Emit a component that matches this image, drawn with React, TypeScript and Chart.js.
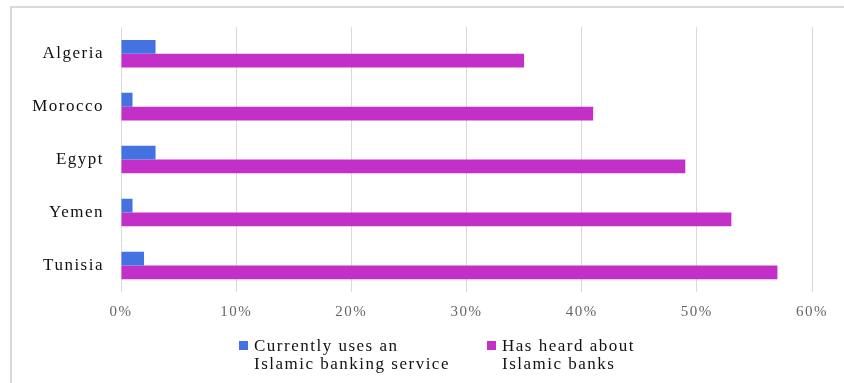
import React, { useEffect, useRef } from "react";
import { Chart, registerables } from "chart.js";

Chart.register(...registerables);

const categories = ["Algeria", "Morocco", "Egypt", "Yemen", "Tunisia"];
const usesService = [3, 1, 3, 1, 2];
const heardAbout = [35, 41, 49, 53, 57];
const seriesLabels = [
  ["Currently uses an", "Islamic banking service"],
  ["Has heard about", "Islamic banks"],
];
const seriesColors = ["#4472E0", "#C330C8"];
const xTicks = [0, 10, 20, 30, 40, 50, 60];

const FONT = "'Liberation Serif', 'Times New Roman', serif";

const spacingPlugin = {
  id: "letterSpacing",
  beforeDraw(chart: any) {
    try {
      chart.ctx.letterSpacing = "1.5px";
    } catch (e) {}
  },
};

export default function App() {
  const ref = useRef<HTMLCanvasElement | null>(null);

  useEffect(() => {
    if (!ref.current) return;
    const chart = new Chart(ref.current, {
      type: "bar",
      data: {
        labels: categories,
        datasets: [
          {
            label: seriesLabels[0].join(" "),
            data: usesService,
            backgroundColor: seriesColors[0],
            categoryPercentage: 0.52,
            barPercentage: 1,
          },
          {
            label: seriesLabels[1].join(" "),
            data: heardAbout,
            backgroundColor: seriesColors[1],
            categoryPercentage: 0.52,
            barPercentage: 1,
          },
        ],
      },
      plugins: [spacingPlugin],
      options: {
        indexAxis: "y",
        animation: false,
        responsive: false,
        maintainAspectRatio: false,
        layout: { padding: { left: 0, right: 32, top: 27, bottom: 61 } },
        plugins: {
          legend: { display: false },
          tooltip: { enabled: false },
        },
        scales: {
          x: {
            min: xTicks[0],
            max: xTicks[xTicks.length - 1],
            border: { display: false },
            grid: { color: "#d9d9d9", drawTicks: false, lineWidth: 1 },
            afterFit: (s: any) => {
              s.height = 30;
            },
            afterBuildTicks: (s: any) => {
              s.ticks = xTicks.map((v) => ({ value: v }));
            },
            ticks: {
              padding: 11,
              color: "#666666",
              font: { family: FONT, size: 15 },
              callback: (v: any) => v + "%",
            },
          },
          y: {
            border: { display: false },
            grid: { display: false, drawTicks: false },
            afterFit: (s: any) => {
              s.width = 121;
            },
            ticks: {
              padding: 17,
              color: "#111111",
              font: { family: FONT, size: 17 },
            },
          },
        },
      },
    });
    return () => chart.destroy();
  }, []);

  const legendText: React.CSSProperties = {
    position: "absolute",
    fontFamily: FONT,
    fontSize: 17,
    lineHeight: "18px",
    letterSpacing: "1.5px",
    color: "#111111",
    whiteSpace: "nowrap",
  };

  return (
    <div style={{ position: "absolute", left: 0, top: 0, width: 844, height: 383, background: "#fff", overflow: "hidden" }}>
      <div
        style={{
          position: "absolute",
          left: 10,
          top: 6,
          width: 850,
          height: 400,
          borderLeft: "2px solid #d9d9d9",
          borderTop: "2px solid #d9d9d9",
        }}
      />
      <canvas ref={ref} width={844} height={383} style={{ position: "absolute", left: 0, top: 0 }} />
      <div style={{ position: "absolute", left: 239, top: 341, width: 9, height: 9, background: seriesColors[0] }} />
      <div style={{ ...legendText, left: 254, top: 337 }}>
        {seriesLabels[0][0]}
        <br />
        {seriesLabels[0][1]}
      </div>
      <div style={{ position: "absolute", left: 487, top: 341, width: 9, height: 9, background: seriesColors[1] }} />
      <div style={{ ...legendText, left: 502, top: 337 }}>
        {seriesLabels[1][0]}
        <br />
        {seriesLabels[1][1]}
      </div>
    </div>
  );
}
